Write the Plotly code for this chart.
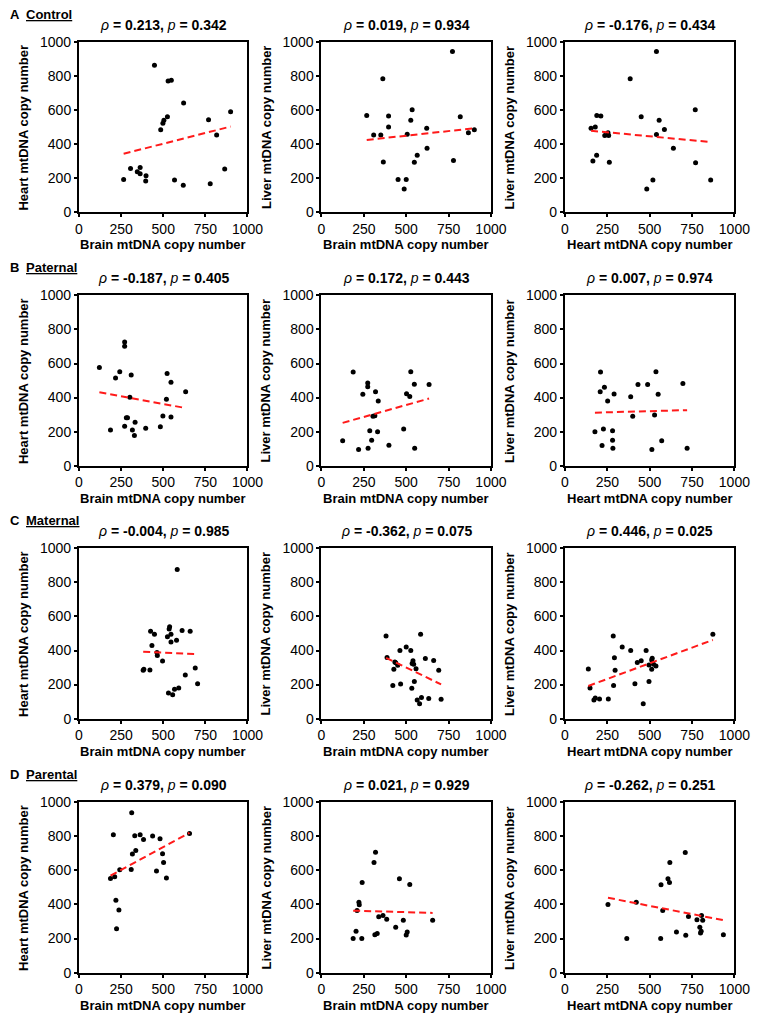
import numpy as np
import plotly.graph_objects as go

W, H = 765, 1018

row_labels = ["A", "B", "C", "D"]
row_names = ["Control", "Paternal", "Maternal", "Parental"]
x_titles = ["Brain mtDNA copy number", "Brain mtDNA copy number", "Heart mtDNA copy number"]
y_titles = ["Heart mtDNA copy number", "Liver mtDNA copy number", "Liver mtDNA copy number"]
rho_vals = [["0.213", "0.019", "-0.176"],
            ["-0.187", "0.172", "0.007"],
            ["-0.004", "-0.362", "0.446"],
            ["0.379", "0.021", "-0.262"]]
p_vals = [["0.342", "0.934", "0.434"],
          ["0.405", "0.443", "0.974"],
          ["0.985", "0.075", "0.025"],
          ["0.090", "0.929", "0.251"]]
x_ticks = [0, 250, 500, 750, 1000]
y_ticks = [0, 200, 400, 600, 800, 1000]

# ---- Control ----
a1_x = [448, 529, 548, 621, 525, 504, 498, 485, 769, 900, 817, 265, 306, 346, 363, 363, 398, 396, 567, 619, 779, 865]
a1_y = [865, 772, 776, 642, 561, 540, 522, 484, 543, 590, 453, 190, 255, 236, 261, 224, 213, 182, 188, 157, 166, 253]
a2_x = [773, 362, 267, 308, 350, 396, 396, 365, 535, 527, 506, 621, 623, 565, 548, 452, 500, 488, 819, 779, 867, 902]
a2_y = [946, 785, 569, 453, 453, 565, 501, 294, 603, 540, 458, 493, 375, 333, 292, 190, 190, 135, 561, 302, 466, 484]
a3_x = [540, 385, 188, 212, 179, 154, 235, 254, 258, 450, 556, 587, 540, 187, 165, 262, 640, 769, 771, 519, 483, 860]
a3_y = [946, 785, 569, 565, 501, 493, 451, 466, 451, 561, 540, 486, 456, 333, 300, 292, 375, 603, 290, 188, 135, 188]
# ---- Paternal ----
b1_x = [271, 271, 121, 242, 217, 310, 523, 546, 633, 519, 302, 281, 288, 271, 333, 187, 317, 329, 396, 483, 498, 546]
b1_y = [726, 701, 577, 552, 515, 533, 541, 490, 434, 390, 402, 282, 282, 232, 255, 210, 210, 178, 220, 228, 292, 286]
b2_x = [187, 273, 273, 244, 319, 335, 502, 521, 527, 548, 635, 304, 315, 285, 331, 125, 296, 219, 275, 398, 485, 550]
b2_y = [550, 485, 463, 419, 434, 380, 423, 407, 552, 479, 477, 290, 293, 205, 199, 147, 149, 95, 102, 120, 216, 102]
b3_x = [210, 233, 208, 290, 252, 388, 431, 488, 537, 550, 696, 400, 529, 177, 227, 219, 281, 281, 283, 513, 571, 721]
b3_y = [550, 461, 434, 421, 380, 405, 477, 477, 552, 419, 483, 290, 297, 199, 216, 118, 205, 149, 102, 95, 147, 102]
# ---- Maternal ----
c1_x = [583, 425, 448, 535, 538, 525, 546, 612, 660, 546, 579, 433, 463, 465, 496, 381, 385, 421, 631, 690, 704, 531, 556, 567, 592]
c1_y = [876, 514, 496, 527, 539, 481, 496, 517, 514, 450, 461, 429, 388, 371, 338, 284, 290, 286, 257, 297, 205, 151, 141, 172, 180]
c2_x = [381, 585, 500, 463, 527, 387, 433, 438, 450, 427, 540, 535, 544, 558, 613, 662, 692, 421, 467, 548, 533, 565, 590, 579, 633, 706]
c2_y = [486, 496, 421, 400, 400, 359, 332, 328, 313, 290, 340, 324, 319, 293, 353, 342, 284, 195, 203, 218, 178, 110, 124, 87, 118, 114]
c3_x = [873, 285, 338, 388, 479, 292, 296, 138, 427, 450, 515, 512, 496, 523, 537, 512, 413, 287, 496, 148, 171, 179, 204, 256, 462]
c3_y = [496, 486, 421, 400, 400, 357, 284, 292, 330, 340, 355, 344, 315, 319, 309, 290, 205, 195, 218, 180, 110, 122, 116, 116, 87]
# ---- Parental ----
d1_x = [313, 204, 331, 363, 383, 437, 481, 656, 337, 317, 496, 502, 460, 519, 310, 242, 187, 212, 219, 237, 223]
d1_y = [939, 810, 804, 810, 781, 802, 786, 817, 717, 696, 698, 646, 596, 555, 605, 604, 553, 563, 425, 367, 257]
d2_x = [319, 310, 460, 521, 240, 221, 223, 210, 338, 363, 385, 483, 656, 438, 204, 187, 238, 315, 329, 506, 500]
d2_y = [707, 647, 551, 518, 529, 413, 399, 365, 328, 336, 313, 307, 307, 266, 243, 200, 200, 223, 229, 238, 221]
d3_x = [710, 619, 608, 617, 567, 254, 421, 577, 729, 806, 779, 813, 796, 804, 800, 658, 713, 935, 365, 565]
d3_y = [705, 647, 551, 529, 516, 400, 413, 365, 330, 336, 311, 307, 266, 243, 232, 238, 219, 223, 200, 200]

panels = [[(a1_x, a1_y), (a2_x, a2_y), (a3_x, a3_y)],
          [(b1_x, b1_y), (b2_x, b2_y), (b3_x, b3_y)],
          [(c1_x, c1_y), (c2_x, c2_y), (c3_x, c3_y)],
          [(d1_x, d1_y), (d2_x, d2_y), (d3_x, d3_y)]]

# layout in pixels
col_left = [77, 326, 576]
col_right = [250, 500, 750]
row_top = [35, 292, 549, 807]
row_bottom = [207, 465, 722, 980]

FONT = "Liberation Sans, Arial, sans-serif"

fig = go.Figure()
annotations = []
layout_axes = {}

def py(p):
    return 1 - p / H

def px(p):
    return p / W

n = 0
for r in range(4):
    for c in range(3):
        n += 1
        xs = np.array(panels[r][c][0], dtype=float)
        ys = np.array(panels[r][c][1], dtype=float)
        xa = "x" if n == 1 else f"x{n}"
        ya = "y" if n == 1 else f"y{n}"
        fig.add_trace(go.Scatter(x=xs, y=ys, mode="markers",
                                 marker=dict(color="black", size=5),
                                 xaxis=xa, yaxis=ya, showlegend=False))
        slope, icpt = np.polyfit(xs, ys, 1)
        lx = np.array([xs.min(), xs.max()])
        fig.add_trace(go.Scatter(x=lx, y=slope * lx + icpt, mode="lines",
                                 line=dict(color="#ff1a1a", width=2, dash="7px,4px"),
                                 xaxis=xa, yaxis=ya, showlegend=False))
        common = dict(showline=True, linewidth=2, linecolor="black", mirror=True,
                      ticks="outside", ticklen=3, tickwidth=1.5, tickcolor="black",
                      showgrid=False, zeroline=False,
                      tickfont=dict(family=FONT, size=14, color="black"))
        layout_axes["xaxis" if n == 1 else f"xaxis{n}"] = dict(
            domain=[px(col_left[c]), px(col_right[c])], range=[0, 1000],
            tickvals=x_ticks, anchor=ya, **common)
        layout_axes["yaxis" if n == 1 else f"yaxis{n}"] = dict(
            domain=[py(row_bottom[r]), py(row_top[r])], range=[0, 1000],
            tickvals=y_ticks, anchor=xa, **common)
        cx = (col_left[c] + col_right[c]) / 2
        annotations.append(dict(
            text=f"<i>ρ</i><b> = {rho_vals[r][c]}, </b><i>p</i><b> = {p_vals[r][c]}</b>",
            x=px(cx), y=py(row_top[r] - 18), xref="paper", yref="paper",
            xanchor="center", yanchor="middle", showarrow=False,
            font=dict(family=FONT, size=14, color="black")))
        annotations.append(dict(
            text=f"<b>{x_titles[c]}</b>", x=px(cx), y=py(row_bottom[r] + 33),
            xref="paper", yref="paper", xanchor="center", yanchor="middle",
            showarrow=False, font=dict(family=FONT, size=13, color="black")))
        cy = (row_top[r] + row_bottom[r]) / 2
        annotations.append(dict(
            text=f"<b>{y_titles[c]}</b>", x=px(col_left[c] - 57), y=py(cy),
            xref="paper", yref="paper", xanchor="center", yanchor="middle",
            textangle=-90, showarrow=False,
            font=dict(family=FONT, size=13, color="black")))
    ly = row_top[r] - 28
    annotations.append(dict(text=f"<b>{row_labels[r]}</b>", x=px(4), y=py(ly),
                            xref="paper", yref="paper", xanchor="left", yanchor="middle",
                            showarrow=False, font=dict(family=FONT, size=13, color="black")))
    annotations.append(dict(text=f"<b><u>{row_names[r]}</u></b>", x=px(21), y=py(ly),
                            xref="paper", yref="paper", xanchor="left", yanchor="middle",
                            showarrow=False, font=dict(family=FONT, size=13, color="black")))

fig.update_layout(width=W, height=H, margin=dict(l=0, r=0, t=0, b=0),
                  paper_bgcolor="white", plot_bgcolor="white",
                  annotations=annotations, **layout_axes)

fig.write_html("out.html")
